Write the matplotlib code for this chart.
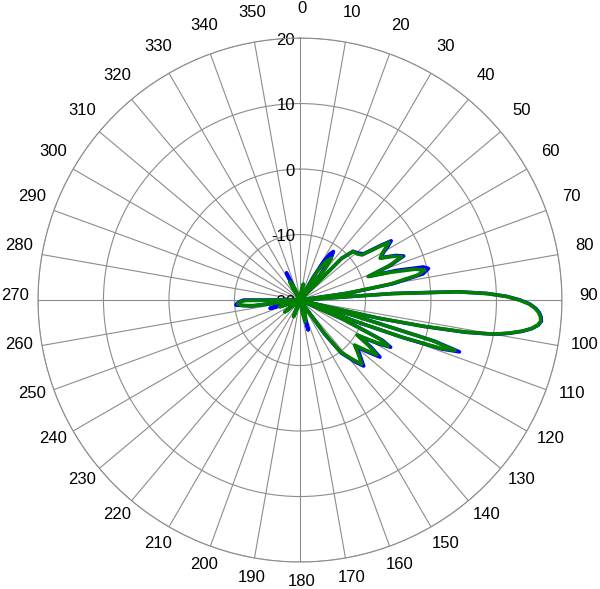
import matplotlib
matplotlib.use('Agg')
import matplotlib.pyplot as plt
import numpy as np
from matplotlib.transforms import offset_copy

plt.rcParams['font.family'] = ['Liberation Sans', 'DejaVu Sans']

theta_ticks = list(range(0, 360, 10))
theta_labels = [str(t) for t in theta_ticks]
r_ticks = [-20, -10, 0, 10, 20]
r_labels = ['-20', '-10', '0', '10', '20']

blue_ang = [0, 8, 16, 28, 30, 31.5, 33, 34.6, 36.5, 38.5, 40.5, 43, 45, 47.5, 51, 54, 56, 57,
            58.5, 60.5, 62.5, 65, 67, 69, 71, 73, 75, 76.2, 78, 80, 82, 84, 85, 86, 87, 88,
            89, 90, 91, 92, 93, 94, 95, 96, 97, 98, 99, 100, 101, 102, 103, 104, 105, 106,
            107, 108, 109, 110, 111, 112, 113, 114, 116, 117.5, 119, 121.5, 123.5, 125.5,
            127.5, 129.5, 132, 136, 138, 139.5, 142, 144, 146, 152, 160, 164.5, 168, 175,
            196, 201, 206, 226, 232, 238, 249, 254.5, 258, 262, 263, 265.5, 267, 268.5,
            270, 271, 325, 329, 333.5, 337, 342, 360]
blue_db = [-20, -19, -20, -20, -16, -13, -11.6, -11.0, -12, -15, -20, -20, -11, -9.0, -8.6,
           -8.0, -5.0, -3.4, -4.2, -5.4, -6.0, -3.9, -2.8, -5.2, -8.8, -4.5, -0.5, 0.2, -0.8,
           -5.5, -12.5, -20, -20, -5.5, 4.2, 8.6, 11.6, 13.6, 15.1, 16.0, 16.6, 16.9, 17.0,
           16.6, 15.7, 14.3, 12.4, 10.1, 5.8, -0.6, -7.5, -15.5, -20, -11.5, 1.5, 5.6, 3.0,
           -3.0, -10.5, -20, -20, -12.5, -6.0, -4.4, -6.2, -9.5, -7.0, -5.0, -7.0, -8.8,
           -7.8, -6.0, -7.2, -8.3, -9.7, -13.5, -20, -20, -20, -15.3, -20, -20, -20, -17.5,
           -20, -20, -17.3, -20, -20, -15.3, -20, -20, -12.5, -10.2, -10.4, -10.8, -11.4,
           -20, -20, -20, -15.4, -20, -20, -20]

green_ang = [0, 8, 12, 16, 28, 31, 34, 37, 39, 41, 43, 45, 47.5, 51, 54, 56, 57, 58.5, 60.5,
             62.5, 65, 67, 69, 71, 73, 75, 76.5, 78, 80, 82, 84, 85, 86, 87, 88, 89, 90, 91,
             92, 93, 94, 95, 96, 97, 98, 99, 100, 101, 102, 103, 104, 105, 106, 107, 108,
             109, 110, 111, 112, 113, 114, 116, 117.5, 119, 121.5, 123.5, 125.5, 127.5,
             129.5, 132, 136, 138, 139.5, 142, 144, 146, 152, 158, 163, 167, 171, 175, 196,
             201, 206, 226, 232, 238, 245, 251.5, 256, 262, 263, 264.5, 266.3, 268, 269.5,
             270.5, 324, 328, 331, 336, 342, 360]
green_db = [-20, -18.5, -17.5, -20, -20, -15, -12.8, -12.0, -14, -20, -20, -11, -9.0, -8.8,
            -8.3, -5.5, -3.8, -4.6, -5.6, -6.2, -4.2, -3.1, -5.5, -9.0, -5.5, -1.8, -0.4,
            -1.6, -6, -13, -20, -20, -6, 4, 8.5, 11.5, 13.5, 15, 15.9, 16.5, 16.8, 16.9,
            16.5, 15.6, 14.2, 12.3, 10, 5.5, -1, -8, -16, -20, -12, 1, 4.9, 2.5, -3.5, -11,
            -20, -20, -13, -6.5, -4.8, -6.5, -9.8, -7.5, -5.6, -7.5, -9.2, -8.2, -6.4, -7.6,
            -8.6, -10.0, -14, -20, -20, -18, -17, -16.6, -18.5, -20, -20, -17.3, -20, -20,
            -17.1, -20, -20, -16.8, -20, -20, -13, -11.2, -10.5, -10.8, -11.6, -20, -20,
            -18, -16.8, -18, -20, -20]

fig = plt.figure(figsize=(6, 5.89), dpi=100)
ax = fig.add_axes([0.0633, 0.0458, 0.8733, 0.8896], projection='polar')
ax.set_theta_zero_location('N')
ax.set_theta_direction(-1)

ax.plot(np.deg2rad(blue_ang), blue_db, color='#0000ff', linewidth=2.6, zorder=3)
ax.plot(np.deg2rad(green_ang), green_db, color='#008000', linewidth=2.6, zorder=4)

ax.set_rlim(-20, 20)
ax.set_rticks(r_ticks)
ax.set_yticklabels([])
ax.set_thetagrids(theta_ticks, [''] * len(theta_ticks))
ax.tick_params(axis='x', length=0)
ax.grid(True, color='#8c8c8c', linewidth=0.8)
ax.spines['polar'].set_color('#8c8c8c')
ax.spines['polar'].set_linewidth(0.8)

# angle labels just outside the outer ring
lab_trans = offset_copy(ax.transData, fig=fig, x=2, y=5, units='dots')
for a, lab in zip(theta_ticks, theta_labels):
    ax.text(np.deg2rad(a), 23.8, lab, transform=lab_trans, ha='center', va='center',
            fontsize=12, color='black', clip_on=False)

trans = offset_copy(ax.transData, fig=fig, x=-5, y=-2, units='dots')
for v, lab in zip(r_ticks, r_labels):
    ax.text(0, v, lab, transform=trans, ha='right', va='center', fontsize=12,
            color='black', zorder=2)

fig.savefig('out.png', dpi=100)
